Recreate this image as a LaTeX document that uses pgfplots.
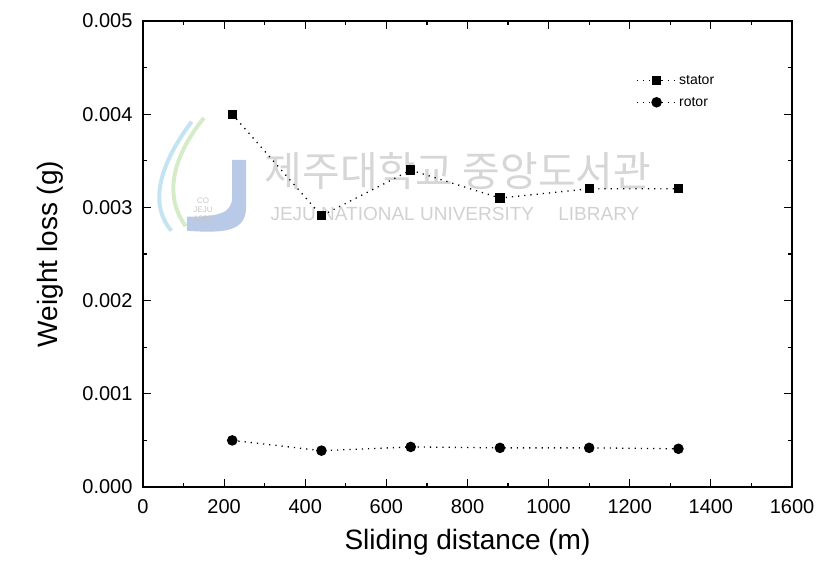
\documentclass[border=0pt]{standalone}
\usepackage{pgfplots}
\pgfplotsset{compat=1.18}
\usetikzlibrary{calc}
\usepackage{fontspec}
\setmainfont{Liberation Sans}
\newfontfamily\cjk{Noto Sans CJK KR}
\definecolor{jblue}{RGB}{184,202,232}
\definecolor{jgreen}{RGB}{214,236,200}
\definecolor{jcyan}{RGB}{196,228,242}
\begin{document}
\begin{tikzpicture}
\begin{axis}[
  scale only axis,
  width=649pt, height=466pt,
  xmin=0, xmax=1600, ymin=0, ymax=0.005,
  xtick={0,200,...,1600},
  ytick={0,0.001,0.002,0.003,0.004,0.005},
  xticklabel style={/pgf/number format/1000 sep={}, /tikz/yshift=-9pt},
  yticklabel style={/pgf/number format/fixed, /pgf/number format/fixed zerofill, /pgf/number format/precision=3, /tikz/xshift=-7pt},
  scaled y ticks=false,
  minor x tick num=1, minor y tick num=1,
  tick align=inside,
  major tick length=8pt, minor tick length=4pt,
  tick style={black, line width=1.2pt},
  axis line style={line width=1.6pt},
  every tick label/.append style={font=\fontsize{20}{24}\selectfont},
  /pgf/number format/assume math mode=true,
  xlabel={Sliding distance (m)},
  ylabel={Weight loss (g)},
  label style={font=\fontsize{28}{32}\selectfont},
  xlabel style={yshift=-9pt},
  ylabel style={yshift=12pt},
  legend style={draw=none, fill=none, at={(0.885,0.89)}, anchor=north east,
    font=\fontsize{14}{16}\selectfont, row sep=7pt, inner sep=1pt},
  legend cell align=left,
  legend image code/.code={
    \draw[#1] (0cm,0cm) -- (1.4cm,0cm);
    \draw[#1, only marks] plot coordinates {(0.7cm,0cm)};
  },
]
% faint watermark (logo and library name)
\draw[jcyan, line width=4pt] (axis cs:120,0.00392) .. controls (axis cs:30,0.0034) and (axis cs:20,0.0030) .. (axis cs:70,0.00275);
\draw[jgreen, line width=4pt] (axis cs:150,0.00396) .. controls (axis cs:65,0.0035) and (axis cs:55,0.0031) .. (axis cs:105,0.0028);
\fill[jblue] (axis cs:254,0.00351) -- (axis cs:254,0.00300) .. controls (axis cs:254,0.00274) and (axis cs:200,0.00272) .. (axis cs:108,0.00275)
  -- (axis cs:108,0.00290) .. controls (axis cs:190,0.00290) and (axis cs:220,0.00294) .. (axis cs:220,0.00312) -- (axis cs:220,0.00351) -- cycle;
\node[text=black!22, font=\fontsize{8}{9}\selectfont, align=center] at (axis cs:148,0.00298) {CO\\JEJU\\1952};
\node[text=black!16, font=\cjk\fontsize{41}{45}\selectfont] at (axis cs:777,0.00339) {제주대학교 중앙도서관};
\node[text=black!18, font=\fontsize{19}{21}\selectfont] at (axis cs:769,0.00293) {JEJU NATIONAL UNIVERSITY\quad\ LIBRARY};
\addplot[black, line width=1.3pt, dash pattern=on 1.2pt off 5pt, mark=square*, mark size=4pt, mark options={solid}]
  coordinates {(220,0.0040) (440,0.00291) (660,0.0034) (880,0.0031) (1100,0.0032) (1320,0.0032)};
\addlegendentry{stator}
\addplot[black, line width=1.3pt, dash pattern=on 1.2pt off 5pt, mark=*, mark size=4.6pt, mark options={solid}]
  coordinates {(220,0.0005) (440,0.00039) (660,0.00043) (880,0.00042) (1100,0.00042) (1320,0.00041)};
\addlegendentry{rotor}
\end{axis}
\pgfresetboundingbox
\path ($(current axis.south west)+(-143pt,-80pt)$) rectangle ($(current axis.north east)+(29pt,21pt)$);
\end{tikzpicture}
\end{document}
